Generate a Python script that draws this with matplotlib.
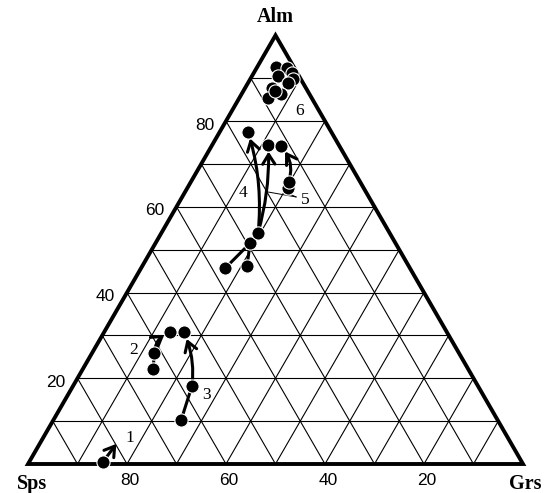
import numpy as np
import matplotlib
matplotlib.use("Agg")
import matplotlib.pyplot as plt
from matplotlib.patches import FancyArrowPatch, Polygon

# end-member names and tick values (mol %)
corner_names = ["Sps", "Grs", "Alm"]
tick_values = [20, 40, 60, 80]

# garnet analyses as (Alm, Grs) in mol %, Sps = remainder
grain6_alm = [92.5, 92.3, 91.3, 89.9, 90.4, 88.8, 87.8, 85.4, 86.2, 87.1]
grain6_grs = [3.9, 6.2, 7.7, 8.6, 5.3, 8.1, 5.4, 5.8, 8.0, 6.4]

grain1_alm = [0.5]
grain1_grs = [14.9]
grain1_tip = (4.7, 15.5)

grain2_alm = [22.2, 25.8, 30.9]
grain2_grs = [14.2, 12.6, 13.3]

grain3_alm = [10.3, 18.3, 30.7]
grain3_grs = [25.8, 24.0, 16.2]

grain4_alm = [45.7, 46.1, 51.5, 54.0, 77.5, 74.5]
grain4_grs = [17.0, 21.2, 19.1, 19.5, 5.7, 11.3]

grain5_alm = [64.4, 65.8, 74.2]
grain5_grs = [20.3, 19.8, 14.0]

# profile labels: (text, Alm, Grs)
profile_labels = [("1", 6.1, 17.6), ("2", 26.7, 7.9), ("3", 16.2, 27.9),
                  ("4", 63.2, 11.8), ("5", 61.6, 25.2), ("6", 82.4, 13.7)]

H = np.sqrt(3) / 2


def to_xy(alm, grs):
    alm = np.asarray(alm, dtype=float) / 100
    grs = np.asarray(grs, dtype=float) / 100
    return grs + alm / 2, alm * H


fig = plt.figure(figsize=(5.46, 4.93), dpi=100)
ax = fig.add_axes([0, 0, 1, 1])
ax.set_xlim(-28 / 495, 518 / 495)
ax.set_ylim(-29 / 495, 464 / 495)
ax.axis("off")

# 10 % grid in all three directions
for v in range(10, 100, 10):
    for a, g in [([v, v], [0, 100 - v]),          # constant Alm
                 ([0, 100 - v], [v, v]),          # constant Grs
                 ([0, 100 - v], [100 - v, 0])]:   # constant Sps
        x, y = to_xy(a, g)
        ax.plot(x, y, color="black", lw=0.8, zorder=1)

# outer triangle
ax.add_patch(Polygon([(0, 0), (1, 0), (0.5, H)], closed=True, fill=False,
                     ec="black", lw=2.8, joinstyle="miter", zorder=2))

# corner names
ax.text(0.5, H + 0.036, "Alm", ha="center", va="center", fontsize=14.5,
        fontweight="bold", family="Liberation Serif")
ax.text(0.008, -0.041, "Sps", ha="center", va="center", fontsize=14.5,
        fontweight="bold", family="Liberation Serif")
ax.text(1.005, -0.041, "Grs", ha="center", va="center", fontsize=14.5,
        fontweight="bold", family="Liberation Serif")

# tick labels: Alm along the left edge, Sps along the base
for t in tick_values:
    x, y = to_xy(t, 0)
    ax.text(x - 0.043, y - 0.008, str(t), ha="center", va="center",
            fontsize=12.5, family="Liberation Sans")
    x, y = to_xy(0, 100 - t)
    ax.text(x + 0.006, y - 0.033, str(t), ha="center", va="center",
            fontsize=12.5, family="Liberation Sans")


def seg(a, g, lw=2.2):
    x, y = to_xy(a, g)
    ax.plot(x, y, color="black", lw=lw, solid_capstyle="round", zorder=3)


def arrow(a0, g0, a1, g1, rad=0.0, shrink=5):
    p0 = tuple(to_xy(a0, g0))
    p1 = tuple(to_xy(a1, g1))
    ax.add_patch(FancyArrowPatch(p0, p1, connectionstyle=f"arc3,rad={rad}",
                                 arrowstyle="->,head_length=0.35,head_width=0.22",
                                 mutation_scale=20, lw=2.2, color="black",
                                 shrinkA=0, shrinkB=shrink, zorder=3))


def dots(a, g):
    x, y = to_xy(a, g)
    ax.plot(x, y, "o", ms=9.5, mfc="black", mec="white", mew=0.8, zorder=4)


# profile 1
arrow(grain1_alm[0], grain1_grs[0], *grain1_tip, shrink=0)
dots(grain1_alm, grain1_grs)

# profile 2
seg(grain2_alm[:2], grain2_grs[:2])
arrow(grain2_alm[1], grain2_grs[1], grain2_alm[2], grain2_grs[2], rad=-0.3)
dots(grain2_alm, grain2_grs)

# profile 3
seg(grain3_alm[:2], grain3_grs[:2])
arrow(grain3_alm[1], grain3_grs[1], grain3_alm[2], grain3_grs[2], rad=0.13)
dots(grain3_alm, grain3_grs)

# profile 4: two rim analyses joined to the core, then two paths to the rims
seg([grain4_alm[0], grain4_alm[2]], [grain4_grs[0], grain4_grs[2]])
seg([grain4_alm[1], grain4_alm[2]], [grain4_grs[1], grain4_grs[2]])
seg(grain4_alm[2:4], grain4_grs[2:4])
arrow(grain4_alm[3], grain4_grs[3], grain4_alm[4], grain4_grs[4], rad=0.1)
arrow(grain4_alm[3], grain4_grs[3], grain4_alm[5], grain4_grs[5], rad=0.08)
dots(grain4_alm, grain4_grs)

# profile 5
arrow(grain5_alm[1], grain5_grs[1], grain5_alm[2], grain5_grs[2], rad=0.27)
dots(grain5_alm, grain5_grs)

# profile 6 cluster
dots(grain6_alm, grain6_grs)

# leader lines from label 5
for a, g in [(63.5, 16.5), (63.0, 21.3)]:
    x, y = to_xy([62.3, a], [23.0, g])
    ax.plot(x, y, color="black", lw=0.7, zorder=3)

for txt, a, g in profile_labels:
    x, y = to_xy(a, g)
    ax.text(x, y, txt, ha="center", va="center", fontsize=12.5,
            family="Liberation Serif", zorder=5)

fig.savefig("out.png", dpi=100)
